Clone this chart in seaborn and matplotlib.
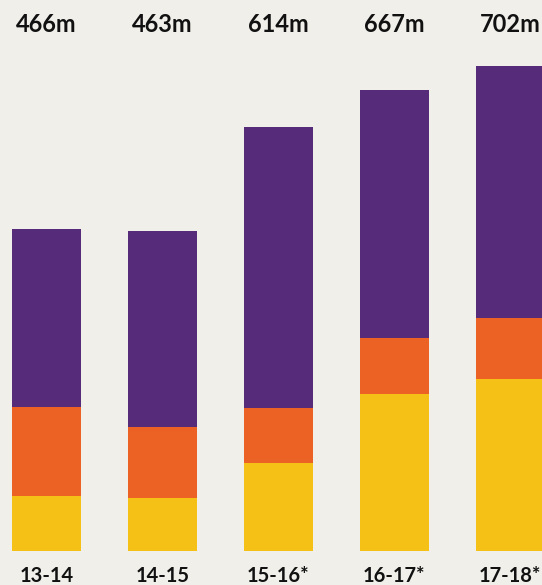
import numpy as np
import pandas as pd
from matplotlib import pyplot as plt
import seaborn as sns

seasons = ['13-14', '14-15', '15-16*', '16-17*', '17-18*']
totals = [466, 463, 614, 667, 702]
yellow_part = [80, 77, 127, 227, 249]
orange_part = [129, 103, 80, 81, 88]

purple_col = '#552B7A'
orange_col = '#EC6124'
yellow_col = '#F6C117'
bg_col = '#F0EFEA'

df = pd.DataFrame({'season': seasons, 'total': totals,
                   'yellow': yellow_part, 'orange': orange_part})
df['yo'] = df['yellow'] + df['orange']

sns.set_style('white')
plt.rcParams['font.family'] = ['Lato', 'DejaVu Sans']

fig = plt.figure(figsize=(5.42, 5.85), dpi=100, facecolor=bg_col)
ax = fig.add_axes([0, 0, 1, 1])
ax.set_facecolor(bg_col)

# stacked bars: draw cumulative totals from back to front
w = 0.595
sns.barplot(x='season', y='total', data=df, color=purple_col, width=w, saturation=1, linewidth=0, ax=ax)
sns.barplot(x='season', y='yo', data=df, color=orange_col, width=w, saturation=1, linewidth=0, ax=ax)
sns.barplot(x='season', y='yellow', data=df, color=yellow_col, width=w, saturation=1, linewidth=0, ax=ax)

scale = 0.6906  # px per million
ax.set_ylim(-34 / scale, 551 / scale)
ax.set_xlim(-46.3 / 116, (542 - 46.3) / 116)
ax.axis('off')

for i, (s, t) in enumerate(zip(seasons, totals)):
    ax.text(i, 1 - 32 / 585, f'{t}m', transform=ax.get_xaxis_transform(),
            ha='center', va='baseline', fontsize=17, fontweight='bold', color='#111111')
    ax.text(i, 3 / 585, s, transform=ax.get_xaxis_transform(),
            ha='center', va='baseline', fontsize=14.5, fontweight='bold', color='#111111')

plt.savefig('out.png', dpi=100, facecolor=bg_col)
